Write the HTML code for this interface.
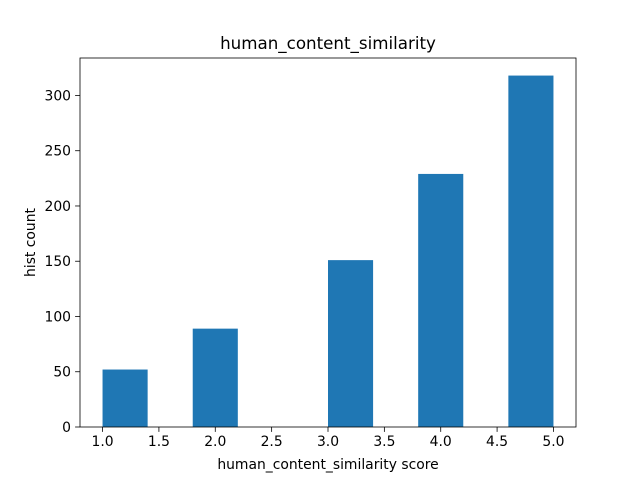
<!DOCTYPE html>
<html><head><meta charset="utf-8"><style>
body{margin:0;background:#fff}
svg text{font-family:"DejaVu Sans","Liberation Sans",sans-serif;fill:#000}
</style></head><body>
<svg width="640" height="480" xmlns="http://www.w3.org/2000/svg">
<rect width="640" height="480" fill="#fff"/>
<g id="bars"></g>
<g id="xt"></g>
<g id="yt"></g>
<rect x="80" y="58" width="496" height="369" fill="none" stroke="#000" stroke-width="0.8"/>
<text x="328" y="49" text-anchor="middle" font-size="16.7">human_content_similarity</text>
<text x="328" y="469" text-anchor="middle" font-size="13.9">human_content_similarity score</text>
<text transform="translate(35,242.5) rotate(-90)" text-anchor="middle" font-size="13.9">hist count</text>
</svg>
<script>
const binEdges=[1.0,1.4,1.8,2.2,2.6,3.0,3.4,3.8,4.2,4.6,5.0];
const counts=[52,0,89,0,0,151,0,229,0,318];
const xTicks=[1.0,1.5,2.0,2.5,3.0,3.5,4.0,4.5,5.0];
const yTicks=[0,50,100,150,200,250,300];
const NS="http://www.w3.org/2000/svg";
const x0=80,x1=576,y0=427,y1=58;
const xmin=0.8,xmax=5.2,ymin=0,ymax=333.9;
const sx=v=>x0+(v-xmin)/(xmax-xmin)*(x1-x0);
const sy=v=>y0-(v-ymin)/(ymax-ymin)*(y0-y1);
const bars=document.getElementById('bars');
counts.forEach((c,i)=>{
  if(c<=0)return;
  const r=document.createElementNS(NS,'rect');
  r.setAttribute('x',sx(binEdges[i]));
  r.setAttribute('width',sx(binEdges[i+1])-sx(binEdges[i]));
  r.setAttribute('y',sy(c));
  r.setAttribute('height',sy(0)-sy(c));
  r.setAttribute('fill','#1f77b4');
  
  
  bars.appendChild(r);
});
const xt=document.getElementById('xt');
xTicks.forEach(v=>{
  const l=document.createElementNS(NS,'line');
  l.setAttribute('x1',sx(v));l.setAttribute('x2',sx(v));
  l.setAttribute('y1',y0);l.setAttribute('y2',y0+4.9);
  l.setAttribute('stroke','#000');l.setAttribute('stroke-width','0.8');
  
  
  xt.appendChild(l);
  const t=document.createElementNS(NS,'text');
  t.setAttribute('x',sx(v));t.setAttribute('y',y0+19);
  t.setAttribute('text-anchor','middle');t.setAttribute('font-size','13.9');
  t.textContent=v.toFixed(1);
  
  
  xt.appendChild(t);
});
const yt=document.getElementById('yt');
yTicks.forEach(v=>{
  const l=document.createElementNS(NS,'line');
  l.setAttribute('x1',x0-4.9);l.setAttribute('x2',x0);
  l.setAttribute('y1',sy(v));l.setAttribute('y2',sy(v));
  l.setAttribute('stroke','#000');l.setAttribute('stroke-width','0.8');
  
  
  yt.appendChild(l);
  const t=document.createElementNS(NS,'text');
  t.setAttribute('x',x0-9);t.setAttribute('y',sy(v)+5);
  t.setAttribute('text-anchor','end');t.setAttribute('font-size','13.9');
  t.textContent=v;
  
  
  yt.appendChild(t);
});
</script>
</body></html>
